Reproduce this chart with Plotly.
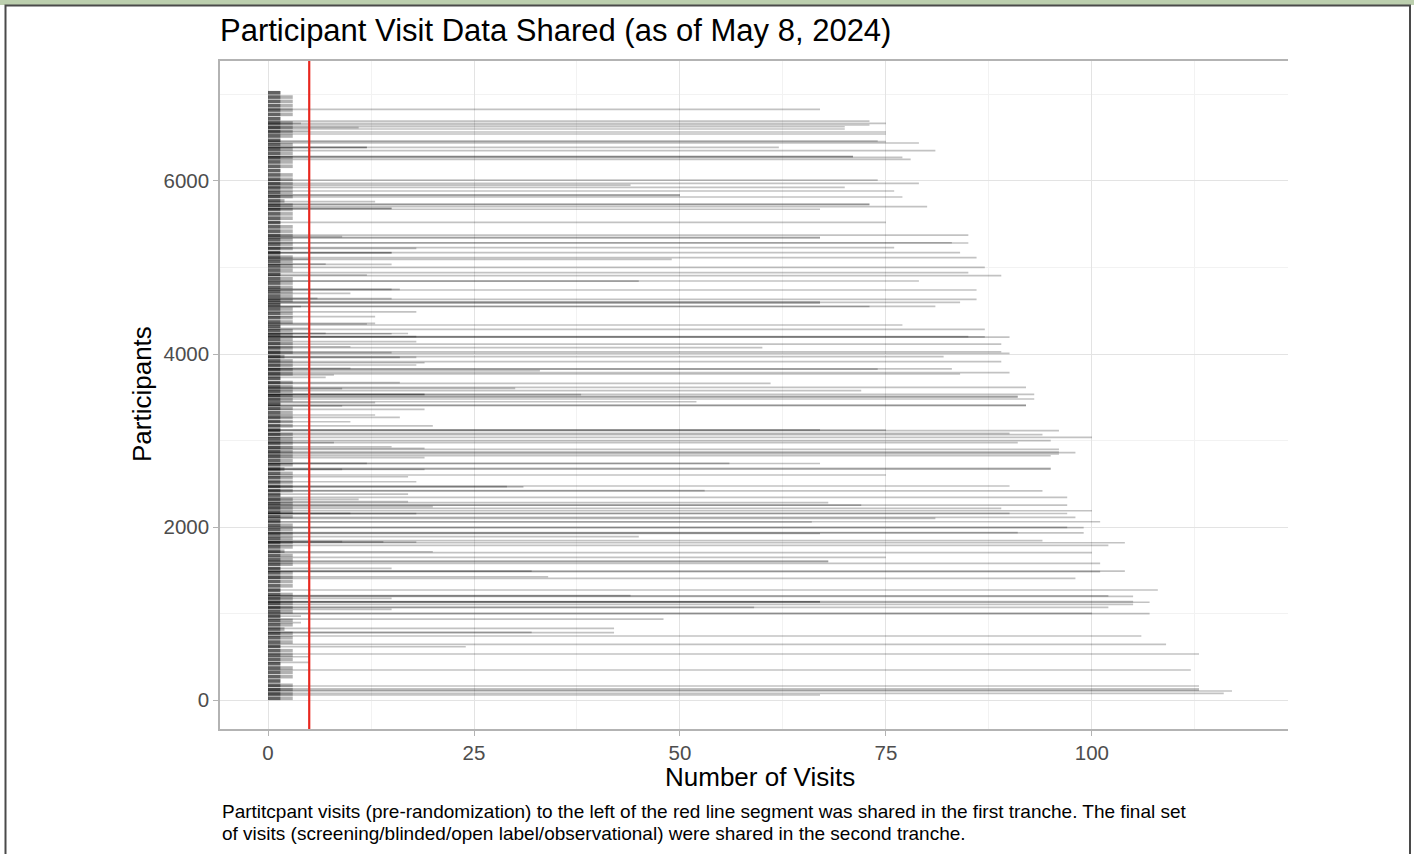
import plotly.graph_objects as go

# ---------------- data ----------------
# participants with long visit histories (participant index, number of visits)
long_ids = [6828, 6693, 6667, 6647, 6627, 6601, 6566, 6543, 6462, 6456, 6439, 6389, 6350, 6283, 6281, 6273, 6250,
            6011, 5973, 5953, 5927, 5884, 5840, 5834, 5815, 5733, 5727, 5703, 5673, 5522, 5375, 5347, 5341, 5286, 5283,
            5229, 5171, 5113, 5094, 5002, 4940, 4905, 4844, 4842, 4740, 4632, 4597, 4603, 4587, 4551, 4549,
            4335, 4285, 4200, 4198, 4195, 4115, 4073, 4026, 4008, 3969, 3911, 3826, 3828, 3784, 3769, 3661, 3615, 3576,
            3534, 3509, 3501, 3480, 3448, 3407, 3405,
            3121, 3123, 3115, 3083, 3067, 3037, 2998, 2975, 2898, 2867, 2860, 2844, 2824, 2736, 2734, 2678, 2670, 2601,
            2474, 2420, 2418, 2343, 2281, 2254, 2252, 2216, 2188, 2158, 2156, 2112, 2100,
            2061, 2058, 1996, 1994, 1934, 1932, 1925, 1888, 1842, 1818, 1788, 1703, 1650, 1607, 1600, 1580, 1491, 1485,
            1490, 1425, 1406, 1272, 1206, 1204, 1198, 1136, 1134, 1138, 1130, 1106, 1072, 1070, 1002, 998, 936, 829,
            778, 783, 740, 644, 532, 347, 162, 130, 115, 104, 77, 58]
long_visits = [67, 73, 75, 73, 70, 70, 75, 75, 74, 75, 79, 62, 81, 71, 71, 77, 78,
               74, 79, 44, 70, 76, 50, 50, 77, 73, 73, 80, 67, 75, 85, 67, 67, 83, 85,
               76, 84, 86, 49, 87, 85, 89, 79, 45, 86, 86, 84, 67, 67, 81, 73,
               77, 87, 85, 87, 90, 89, 60, 89, 90, 82, 89, 74, 83, 90, 84, 61, 92, 72,
               93, 91, 91, 93, 52, 92, 92,
               75, 67, 96, 90, 94, 100, 95, 91, 96, 96, 98, 96, 95, 56, 67, 95, 95, 75,
               90, 53, 94, 97, 68, 72, 97, 89, 100, 90, 97, 98, 81,
               101, 66, 97, 99, 91, 99, 67, 45, 94, 104, 102, 100, 75, 68, 68, 101, 104, 101,
               32, 34, 98, 108, 44, 102, 105, 67, 67, 105, 107, 105, 102, 59, 100, 107, 48, 42,
               42, 32, 106, 109, 113, 112, 113, 113, 113, 117, 116, 67]

# participants with a moderate number of visits
mid_ids = [6667, 6616, 6578, 6389, 6387, 5761, 5684, 5682, 5357, 5222, 5171, 5169, 5094, 5040, 5036, 4913, 4748,
           4746, 4701, 4643, 4640, 4547,
           4488, 4431, 4355, 4347, 4297, 4239, 4237, 4234, 4200, 4142, 4084, 4015, 3962, 3960, 3899, 3873, 3834, 3807,
           3757, 3730, 3668, 3603, 3600, 3534, 3532, 3530, 3437, 3399, 3360, 3295, 3268, 3217, 3168,
           2975, 2928, 2909, 2801, 2736, 2667, 2665, 2581, 2523, 2466, 2464, 2381, 2320, 2293, 2235,
           2158, 2155, 1830, 1828, 1826, 1714, 1522, 1175, 1048, 970, 894, 616, 500, 435]
mid_visits = [4, 11, 5, 12, 12, 13, 15, 15, 9, 18, 15, 15, 5, 7, 15, 12, 15,
              16, 10, 6, 15, 4,
              18, 13, 13, 12, 5, 7, 17, 15, 18, 18, 10, 15, 16, 18, 19, 18, 10, 33,
              8, 7, 16, 30, 9, 19, 19, 38, 13, 9, 19, 13, 16, 10, 20,
              8, 15, 19, 19, 12, 9, 19, 17, 18, 29, 31, 17, 11, 17, 20,
              10, 18, 9, 14, 18, 20, 15, 15, 15, 4, 4, 24, 5, 5]

# dense block of pre-randomization visits (row of participants, visits)
block_ids = [20, 70, 120, 170, 220, 270, 320, 370, 420, 470,
             520, 570, 620, 670, 720, 770, 820, 870, 920, 970,
             1020, 1070, 1120, 1170, 1220, 1270, 1320, 1370, 1420, 1470,
             1520, 1570, 1620, 1670, 1720, 1770, 1820, 1870, 1920, 1970,
             2020, 2070, 2120, 2170, 2220, 2270, 2320, 2370, 2420, 2470,
             2520, 2570, 2620, 2670, 2720, 2770, 2820, 2870, 2920, 2970,
             3020, 3070, 3120, 3170, 3220, 3270, 3320, 3370, 3420, 3470,
             3520, 3570, 3620, 3670, 3720, 3770, 3820, 3870, 3920, 3970,
             4020, 4070, 4120, 4170, 4220, 4270, 4320, 4370, 4420, 4470,
             4520, 4570, 4620, 4670, 4720, 4770, 4820, 4870, 4920, 4970,
             5020, 5070, 5120, 5170, 5220, 5270, 5320, 5370, 5420, 5470,
             5520, 5570, 5620, 5670, 5720, 5770, 5820, 5870, 5920, 5970,
             6020, 6070, 6120, 6170, 6220, 6270, 6320, 6370, 6420, 6470,
             6520, 6570, 6620, 6670, 6720, 6770, 6820, 6870, 6920, 6970,
             7020]
block_visits = [3, 3, 3, 3, 1.5, 3, 3, 3, 1.5, 3,
                3, 3, 1.5, 3, 3, 3, 2, 3, 3, 1.5,
                3, 3, 3, 3, 3, 1.5, 3, 3, 3, 3,
                1.5, 3, 3, 3, 2, 3, 3, 3, 3, 3,
                3, 1.5, 3, 3, 3, 3, 3, 1.5, 3, 3,
                3, 3, 3, 2, 3, 3, 3, 3, 3, 3,
                3, 3, 1.5, 3, 3, 3, 3, 3, 1.5, 3,
                3, 3, 3, 3, 1.5, 3, 3, 3, 3, 2,
                3, 3, 3, 3, 3, 3, 1.5, 3, 3, 3,
                3, 1.5, 3, 3, 3, 3, 3, 3, 1.5, 3,
                3, 3, 3, 1.5, 3, 3, 3, 3, 3, 3,
                1.5, 3, 3, 3, 3, 2, 3, 3, 3, 3,
                3, 3, 1.5, 3, 3, 3, 3, 3, 3, 1.5,
                3, 3, 3, 3, 1.5, 3, 3, 3, 3, 3,
                1.5]
block_dark_visits = 1.5

red_line_visit = 5
x_tick_vals = [0, 25, 50, 75, 100]
y_tick_vals = [0, 2000, 4000, 6000]

title_text = "Participant Visit Data Shared (as of May 8, 2024)"
x_title = "Number of Visits"
y_title = "Participants"
caption_1 = ("Partitcpant visits (pre-randomization) to the left of the red line segment was shared in the "
             "first tranche. The final set")
caption_2 = "of visits (screening/blinded/open label/observational) were shared in the second tranche."

# ---------------- figure ----------------
W, H = 1414, 854
L, R, T, B = 220, 1288, 61, 729
fig = go.Figure()


def xp(px):
    return (px - L) / (R - L)


def yp(py):
    return (B - py) / (B - T)


# block rows: full length (lighter) and the darker first portion
bx, by, dx, dy = [], [], [], []
for pid, v in zip(block_ids, block_visits):
    bx += [0, v, None]
    by += [pid, pid, None]
    dx += [0, min(v, block_dark_visits), None]
    dy += [pid, pid, None]
fig.add_trace(go.Scatter(x=bx, y=by, mode="lines", line=dict(color="rgba(0,0,0,0.30)", width=3.6),
                         hoverinfo="skip", showlegend=False))
fig.add_trace(go.Scatter(x=dx, y=dy, mode="lines", line=dict(color="rgba(0,0,0,0.45)", width=3.6),
                         hoverinfo="skip", showlegend=False))

for pid, v in list(zip(mid_ids, mid_visits)) + list(zip(long_ids, long_visits)):
    fig.add_trace(go.Scatter(x=[0, v], y=[pid, pid], mode="lines",
                             line=dict(color="rgba(0,0,0,0.24)", width=1.7),
                             hoverinfo="skip", showlegend=False))

# red reference line
fig.add_shape(type="line", xref="x", yref="paper", x0=red_line_visit, x1=red_line_visit, y0=0, y1=1,
              line=dict(color="#e8271e", width=2.2), layer="above")

# outer frame
fig.add_shape(type="rect", xref="paper", yref="paper", x0=xp(0), x1=xp(W), y0=yp(5), y1=yp(0),
              fillcolor="#bccfae", line=dict(width=0), layer="below")
fig.add_shape(type="rect", xref="paper", yref="paper", x0=xp(5.5), x1=xp(1410), y0=yp(880), y1=yp(5.5),
              fillcolor="rgba(0,0,0,0)", line=dict(color="#4a4a4a", width=2), layer="below")

font_family = "Liberation Sans, Arial, sans-serif"

fig.update_layout(
    width=W, height=H,
    margin=dict(l=L, r=W - R, t=T, b=H - B, pad=0),
    paper_bgcolor="white", plot_bgcolor="rgba(0,0,0,0)",
    font=dict(family=font_family, color="#4d4d4d"),
    title=dict(text=title_text, x=L / W, xanchor="left", xref="container",
               y=1 - 30 / H, yanchor="middle", yref="container",
               font=dict(size=31, color="black", family=font_family)),
    showlegend=False,
    xaxis=dict(range=[-5.83, 123.8], tickvals=x_tick_vals, ticks="outside", ticklen=5,
               tickcolor="#b3b3b3", tickfont=dict(size=20.5, color="#4d4d4d"),
               showgrid=True, gridcolor="#e3e3e3", gridwidth=1,
               minor=dict(dtick=12.5, tick0=0, showgrid=True, gridcolor="#f2f2f2", gridwidth=1, ticks=""),
               showline=True, mirror=True, linecolor="#b3b3b3", linewidth=1.5, zeroline=False,
               fixedrange=True),
    yaxis=dict(range=[-335, 7387], tickvals=y_tick_vals, ticks="outside", ticklen=5,
               tickcolor="#b3b3b3", tickfont=dict(size=20.5, color="#4d4d4d"),
               showgrid=True, gridcolor="#e3e3e3", gridwidth=1,
               minor=dict(dtick=1000, tick0=0, showgrid=True, gridcolor="#f2f2f2", gridwidth=1, ticks=""),
               showline=True, mirror=False, linecolor="#b3b3b3", linewidth=1.5, zeroline=False,
               fixedrange=True),
)

fig.add_annotation(text=x_title, xref="paper", yref="paper", x=xp(760), y=yp(777),
                   xanchor="center", yanchor="middle", showarrow=False,
                   font=dict(size=26, color="black", family=font_family))
fig.add_annotation(text=y_title, xref="paper", yref="paper", x=xp(142), y=yp(394),
                   xanchor="center", yanchor="middle", showarrow=False, textangle=-90,
                   font=dict(size=26, color="black", family=font_family))
fig.add_annotation(text=caption_1, xref="paper", yref="paper", x=0, y=yp(811),
                   xanchor="left", yanchor="middle", showarrow=False,
                   font=dict(size=19, color="black", family=font_family))
fig.add_annotation(text=caption_2, xref="paper", yref="paper", x=0, y=yp(833),
                   xanchor="left", yanchor="middle", showarrow=False,
                   font=dict(size=19, color="black", family=font_family))

fig.write_html("out.html", config={"displayModeBar": False},
               post_script="document.body.style.margin='0px';document.body.style.overflow='hidden';")
